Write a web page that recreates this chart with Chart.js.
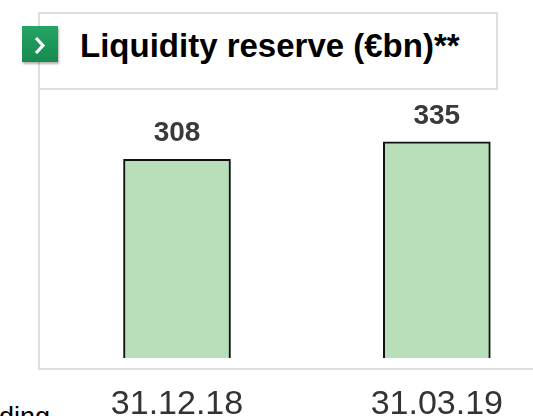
<!DOCTYPE html>
<html>
<head>
<meta charset="utf-8">
<script src="https://cdn.jsdelivr.net/npm/chart.js@4.4.1/dist/chart.umd.min.js"></script>
<style>
  html, body { margin: 0; padding: 0; background: #fff; }
  body { width: 533px; height: 416px; overflow: hidden; position: relative; font-family: "Liberation Sans", Arial, sans-serif; }
  .titlebox { position: absolute; left: 38px; top: 12px; width: 456px; height: 74px; border: 2px solid #dedede; }
  .frame { position: absolute; left: 38px; top: 88px; width: 520px; height: 280px; border-left: 2px solid #dedede; border-bottom: 2px solid #dedede; }
  .icon { position: absolute; left: 22px; top: 26px; width: 36px; height: 36px; background: linear-gradient(#25a464, #178a4f); box-shadow: 1px 2px 2px rgba(0,0,0,0.3); }
  .icon svg { position: absolute; left: 0; top: 0; }
  .title { position: absolute; left: 80px; top: 27px; font: bold 33px "Liberation Sans", Arial, sans-serif; color: #000; white-space: nowrap; }
  .side { position: absolute; left: -1px; top: 402px; font: 27px "Liberation Sans", Arial, sans-serif; color: #000; }
  #wrap { position: absolute; left: 0; top: 0; width: 533px; height: 474px; }
</style>
</head>
<body>
<div class="titlebox"></div>
<div class="frame"></div>
<div class="icon"><svg width="36" height="36"><polyline points="14,12 21,19.5 14,27" fill="none" stroke="#fff" stroke-width="3.2"/></svg></div>
<div class="title">Liquidity reserve (€bn)**</div>
<div class="side">ding</div>
<div id="wrap"><canvas id="chart" width="533" height="474"></canvas></div>
<script>
// data
const dates = ["31.12.18", "31.03.19"];
const reserve = [308, 335];

const valueLabels = {
  id: "valueLabels",
  afterDatasetsDraw(chart) {
    const ctx = chart.ctx;
    const meta = chart.getDatasetMeta(0);
    ctx.save();
    ctx.font = "bold 28px 'Liberation Sans', Arial, sans-serif";
    ctx.fillStyle = "#3a3a3a";
    ctx.textAlign = "center";
    ctx.textBaseline = "middle";
    meta.data.forEach((bar, i) => {
      ctx.fillText(String(reserve[i]), bar.x, bar.y - 26);
    });
    ctx.restore();
  }
};

new Chart(document.getElementById("chart").getContext("2d"), {
  type: "bar",
  data: {
    labels: dates,
    datasets: [{
      data: reserve,
      backgroundColor: "#b8dfba",
      borderColor: "#111111",
      borderWidth: 2,
      barThickness: 107,
      clip: false
    }]
  },
  options: {
    responsive: false,
    animation: false,
    layout: { padding: { top: 100, left: 177, right: 89, bottom: 22 } },
    plugins: { legend: { display: false }, tooltip: { enabled: false } },
    scales: {
      x: {
        offset: false,
        grid: { display: false, drawTicks: false },
        border: { display: false },
        ticks: {
          padding: 30,
          color: "#333333",
          font: { family: "'Liberation Sans', Arial, sans-serif", size: 34, lineHeight: 1 },
          maxRotation: 0
        }
      },
      y: { display: false, min: 0, max: 400 }
    }
  },
  plugins: [valueLabels]
});
</script>
</body>
</html>
